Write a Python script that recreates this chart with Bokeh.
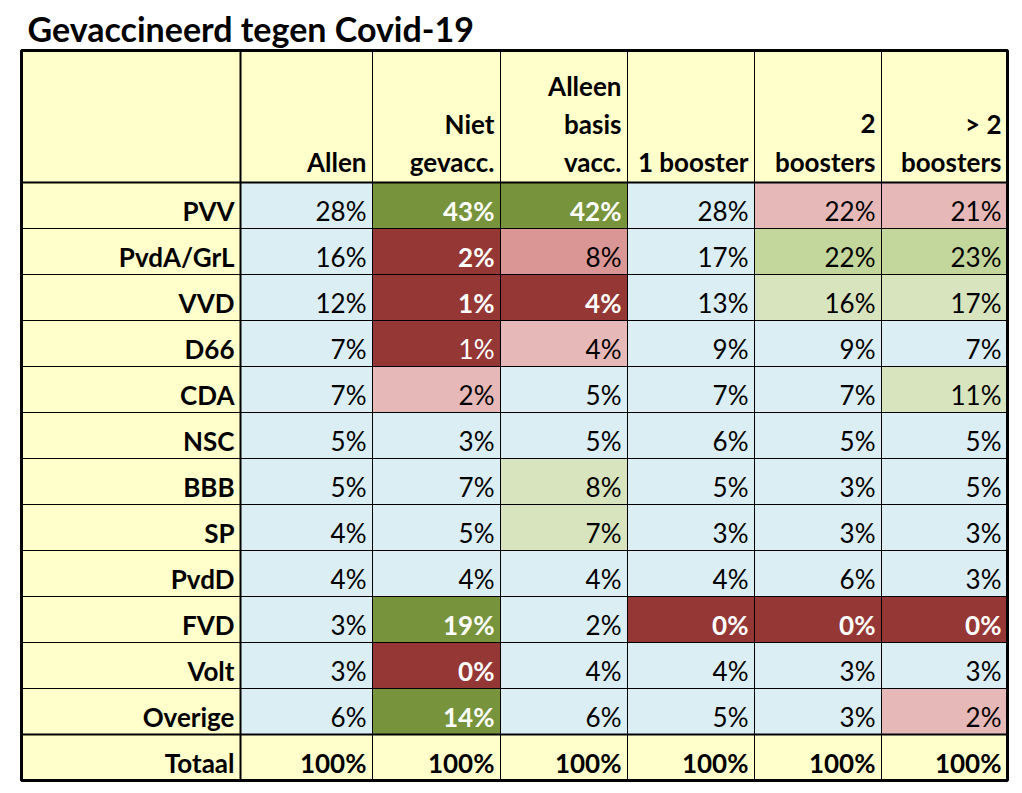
from bokeh.plotting import figure
from bokeh.models import Range1d, ColumnDataSource
from bokeh.core.properties import value
from bokeh.embed import file_html
from bokeh.resources import INLINE

# ---------------- data ----------------
title = "Gevaccineerd tegen Covid-19"
parties = ["PVV", "PvdA/GrL", "VVD", "D66", "CDA", "NSC", "BBB", "SP", "PvdD",
           "FVD", "Volt", "Overige"]
total_label = "Totaal"
col_headers = [["Allen"], ["Niet", "gevacc."], ["Alleen", "basis", "vacc."],
               ["1 booster"], ["2", "boosters"], ["> 2", "boosters"]]

allen   = [28, 16, 12, 7, 7, 5, 5, 4, 4, 3, 3, 6]
niet    = [43, 2, 1, 1, 2, 3, 7, 5, 4, 19, 0, 14]
basis   = [42, 8, 4, 4, 5, 5, 8, 7, 4, 2, 4, 6]
boost1  = [28, 17, 13, 9, 7, 6, 5, 3, 4, 0, 4, 5]
boost2  = [22, 22, 16, 9, 7, 5, 3, 3, 6, 0, 3, 3]
boost3  = [21, 23, 17, 7, 11, 5, 5, 3, 3, 0, 3, 2]
totals  = [100, 100, 100, 100, 100, 100]

# colour classes: b=blue, dg=dark green, dr=dark red, drn=dark red (normal weight),
# pk=light pink, mp=medium pink, lg=light green, vg=very light green
cls_allen  = ["b"] * 12
cls_niet   = ["dg", "dr", "dr", "drn", "pk", "b", "b", "b", "b", "dg", "dr", "dg"]
cls_basis  = ["dg", "mp", "dr", "pk", "b", "b", "vg", "vg", "b", "b", "b", "b"]
cls_boost1 = ["b", "b", "b", "b", "b", "b", "b", "b", "b", "dr", "b", "b"]
cls_boost2 = ["pk", "lg", "vg", "b", "b", "b", "b", "b", "b", "dr", "b", "b"]
cls_boost3 = ["pk", "lg", "vg", "b", "vg", "b", "b", "b", "b", "dr", "b", "pk"]

series = [allen, niet, basis, boost1, boost2, boost3]
classes = [cls_allen, cls_niet, cls_basis, cls_boost1, cls_boost2, cls_boost3]

# ---------------- styles / layout ----------------
FONT = "Lato"
PALETTE = {"b": "#DAEEF3", "dg": "#77933C", "dr": "#953735", "drn": "#953735",
           "pk": "#E6B9B8", "mp": "#D99694", "lg": "#C3D69B", "vg": "#D7E4BD"}
YELLOW = "#FFFFCC"
LEFT = 21
COL_W = [219, 132, 128, 127, 127, 127, 126]
TOP = 50
HEADER_H = 132
ROW_H = 46

x_edges = [LEFT]
for w in COL_W:
    x_edges.append(x_edges[-1] + w)
n_rows = len(parties) + 1
y_edges = [TOP, TOP + HEADER_H]
for i in range(n_rows):
    y_edges.append(y_edges[-1] + ROW_H)

W, H = 1014, 785
p = figure(width=W, height=H, output_backend="svg", toolbar_location=None,
           x_range=Range1d(0, W), y_range=Range1d(H, 0),
           min_border=0, outline_line_color=None, background_fill_color="white",
           border_fill_color="white")
p.xaxis.visible = False
p.yaxis.visible = False
p.grid.visible = False

# cells
L, R, T, B, C = [], [], [], [], []
for j in range(7):
    L.append(x_edges[j]); R.append(x_edges[j + 1]); T.append(y_edges[0]); B.append(y_edges[1]); C.append(YELLOW)
for i in range(n_rows):
    top = y_edges[1 + i]; bot = y_edges[2 + i]
    L.append(x_edges[0]); R.append(x_edges[1]); T.append(top); B.append(bot); C.append(YELLOW)
    for j in range(6):
        col = PALETTE[classes[j][i]] if i < len(parties) else YELLOW
        L.append(x_edges[j + 1]); R.append(x_edges[j + 2]); T.append(top); B.append(bot); C.append(col)
p.quad(left=L, right=R, top=T, bottom=B, fill_color=C, line_color=None)

# grid lines
thin_x0, thin_y0, thin_x1, thin_y1 = [], [], [], []
for xe in x_edges:
    thin_x0.append(xe); thin_x1.append(xe); thin_y0.append(y_edges[0]); thin_y1.append(y_edges[-1])
for ye in y_edges:
    thin_x0.append(x_edges[0]); thin_x1.append(x_edges[-1]); thin_y0.append(ye); thin_y1.append(ye)
p.segment(x0=thin_x0, y0=thin_y0, x1=thin_x1, y1=thin_y1, line_color="black", line_width=1)
p.segment(x0=[x_edges[0], x_edges[0], x_edges[1]],
          y0=[y_edges[1], y_edges[-2], y_edges[0]],
          x1=[x_edges[-1], x_edges[-1], x_edges[1]],
          y1=[y_edges[1], y_edges[-2], y_edges[-1]],
          line_color="black", line_width=2)
p.quad(left=[x_edges[0]], right=[x_edges[-1]], top=[y_edges[0]], bottom=[y_edges[-1]],
       fill_color=None, line_color="black", line_width=3)

PAD = 6
FS = "26px"
# title
p.text(x=[LEFT + 6], y=[28], text=[title], text_font=value(FONT), text_font_style="bold",
       text_font_size="34px", text_color="black", text_align="left", text_baseline="middle")

# headers
hx, hy, ht = [], [], []
for j, lines in enumerate(col_headers):
    n = len(lines)
    for k, line in enumerate(lines):
        hx.append(x_edges[j + 2] - PAD)
        hy.append(y_edges[1] - 21 - (n - 1 - k) * 38)
        ht.append(line)
p.text(x=hx, y=hy, text=ht, text_font=value(FONT), text_font_style="bold",
       text_font_size=FS, text_color="black", text_align="right", text_baseline="middle")

# row labels
lx = [x_edges[1] - PAD] * n_rows
ly = [y_edges[2 + i] - 18 for i in range(n_rows)]
p.text(x=lx, y=ly, text=parties + [total_label], text_font=value(FONT), text_font_style="bold",
       text_font_size=FS, text_color="black", text_align="right", text_baseline="middle")

# values
vx, vy, vt, vc, vs = [], [], [], [], []
for j in range(6):
    for i in range(len(parties)):
        k = classes[j][i]
        vx.append(x_edges[j + 2] - PAD)
        vy.append(y_edges[2 + i] - 18)
        vt.append(f"{series[j][i]}%")
        vc.append("white" if k in ("dg", "dr", "drn") else "black")
        vs.append("bold" if k in ("dg", "dr") else "normal")
    vx.append(x_edges[j + 2] - PAD)
    vy.append(y_edges[-1] - 18)
    vt.append(f"{totals[j]}%")
    vc.append("black")
    vs.append("bold")
src = ColumnDataSource(dict(x=vx, y=vy, text=vt, color=vc, style=vs))
p.text(x="x", y="y", text="text", text_color="color", text_font_style="style", source=src,
       text_font=value(FONT), text_font_size=FS, text_align="right", text_baseline="middle")

open("out.html", "w").write(file_html(p, INLINE))
